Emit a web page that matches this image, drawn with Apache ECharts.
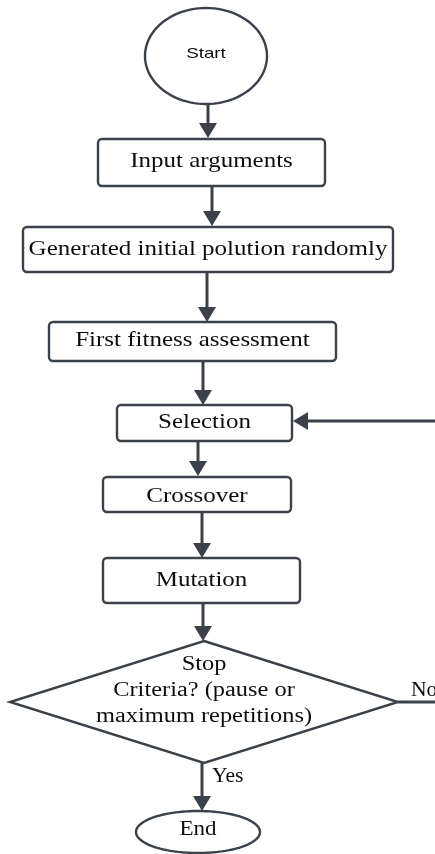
<!DOCTYPE html>
<html>
<head>
<meta charset="utf-8">
<script src="https://cdn.jsdelivr.net/npm/echarts@6/dist/echarts.min.js"></script>
<style>
  html, body { margin: 0; padding: 0; background: #fff; }
  #chart { width: 435px; height: 854px; }
</style>
</head>
<body>
<div id="chart"></div>
<script>
// flowchart content
const stepLabels = [
  "Start",
  "Input arguments",
  "Generated initial polution randomly",
  "First fitness assessment",
  "Selection",
  "Crossover",
  "Mutation",
  "Stop\nCriteria? (pause or\nmaximum repetitions)",
  "End",
];
const stepShapes = ["ellipse", "rect", "rect", "rect", "rect", "rect", "rect", "diamond", "ellipse"];
const links = [[0, 1], [1, 2], [2, 3], [3, 4], [4, 5], [5, 6], [6, 7], [7, 8], [7, 4]];
const linkLabels = ["", "", "", "", "", "", "", "Yes", "No"];

// layout (page pixels): centre x, centre y, width, height
const stepBoxes = [
  [206, 56, 122, 96],
  [211.5, 162.5, 227, 47],
  [208, 249.5, 370, 45],
  [192.5, 341.5, 287, 39],
  [204.5, 423, 175, 36],
  [197, 494.5, 188, 35],
  [201.5, 580.5, 197, 45],
  [204, 702, 388, 122],
  [198, 832, 124, 42],
];
// font size, family, horizontal stretch, text y offset
const stepFonts = [
  [15, "Liberation Sans", 1.25, -2],
  [21, "Liberation Serif", 1.19, -1],
  [21, "Liberation Serif", 1.19, 0],
  [21, "Liberation Serif", 1.19, -1],
  [21, "Liberation Serif", 1.19, -1],
  [21, "Liberation Serif", 1.19, 2],
  [21, "Liberation Serif", 1.19, 0],
  [20, "Liberation Serif", 1.22, -11],
  [20, "Liberation Serif", 1.15, -2],
];
const linkRoutes = [
  [[208, 104], [208, 138]],
  [[212, 186], [212, 226]],
  [[207, 272], [207, 322]],
  [[203, 361], [203, 405]],
  [[198, 441], [198, 476]],
  [[202, 512], [202, 558]],
  [[203, 603], [203, 641]],
  [[202, 763], [202, 811]],
  [[398, 702], [445, 702], [445, 421], [293, 421]],
];
const linkLabelAt = [null, null, null, null, null, null, null, [212, 777], [411, 691]];

const INK = "#3a414b";
const HEAD_LEN = 15;
const HEAD_W = 18;

const myChart = echarts.init(document.getElementById("chart"), null, { renderer: "canvas" });

function renderStep(params, api) {
  const i = params.dataIndex;
  const c = api.coord([api.value(0), api.value(1)]);
  const s = api.size([api.value(2), api.value(3)]);
  const w = s[0], h = s[1];
  const kind = stepShapes[i];
  let body;
  if (kind === "rect") {
    body = { type: "rect", shape: { x: c[0] - w / 2, y: c[1] - h / 2, width: w, height: h, r: 4 } };
  } else if (kind === "diamond") {
    body = {
      type: "polygon",
      shape: { points: [[c[0], c[1] - h / 2], [c[0] + w / 2, c[1]], [c[0], c[1] + h / 2], [c[0] - w / 2, c[1]]] },
    };
  } else {
    const pts = [];
    for (let k = 0; k < 96; k++) {
      const a = (k / 96) * Math.PI * 2;
      pts.push([c[0] + (Math.cos(a) * w) / 2, c[1] + (Math.sin(a) * h) / 2]);
    }
    body = { type: "polygon", shape: { points: pts } };
  }
  body.style = { fill: "#fff", stroke: INK, lineWidth: 2.4 };
  const f = stepFonts[i];
  return {
    type: "group",
    children: [
      body,
      {
        type: "text",
        x: c[0],
        y: c[1] + f[3],
        scaleX: f[2],
        style: {
          text: stepLabels[i],
          fontSize: f[0],
          fontFamily: f[1],
          lineHeight: 26,
          fill: "#0d0d0d",
          align: "center",
          verticalAlign: "middle",
        },
      },
    ],
  };
}

function renderLink(params, api) {
  const i = params.dataIndex;
  const pts = linkRoutes[i].map((p) => api.coord(p));
  const children = [];
  const n = pts.length;
  const last = pts[n - 1], prev = pts[n - 2];
  const dx = last[0] - prev[0], dy = last[1] - prev[1];
  const len = Math.hypot(dx, dy);
  const ux = dx / len, uy = dy / len;
  const bx = last[0] - ux * HEAD_LEN, by = last[1] - uy * HEAD_LEN;
  const linePts = pts.slice();
  linePts[n - 1] = [bx + ux * 2, by + uy * 2];
  children.push({
    type: "polyline",
    shape: { points: linePts },
    style: { stroke: INK, lineWidth: 3, fill: null },
  });
  children.push({
    type: "polygon",
    shape: { points: [last, [bx - (uy * HEAD_W) / 2, by + (ux * HEAD_W) / 2], [bx + (uy * HEAD_W) / 2, by - (ux * HEAD_W) / 2]] },
    style: { fill: INK },
  });
  if (linkLabels[i]) {
    const p = api.coord(linkLabelAt[i]);
    children.push({
      type: "text",
      x: p[0],
      y: p[1],
      scaleX: 1.08,
      style: { text: linkLabels[i], fontSize: 20, fontFamily: "Liberation Serif", fill: "#0d0d0d", align: "left", verticalAlign: "middle" },
    });
  }
  return { type: "group", children: children };
}

const option = {
  animation: false,
  grid: { left: 0, right: 0, top: 0, bottom: 0 },
  xAxis: { type: "value", min: 0, max: 435, show: false },
  yAxis: { type: "value", min: 0, max: 854, inverse: true, show: false },
  series: [
    {
      type: "custom",
      coordinateSystem: "cartesian2d",
      silent: true,
      z: 1,
      data: links.map((l, i) => linkRoutes[i][0]),
      renderItem: renderLink,
    },
    {
      type: "custom",
      coordinateSystem: "cartesian2d",
      silent: true,
      z: 2,
      data: stepBoxes,
      renderItem: renderStep,
    },
  ],
};

option && myChart.setOption(option);
</script>
</body>
</html>
